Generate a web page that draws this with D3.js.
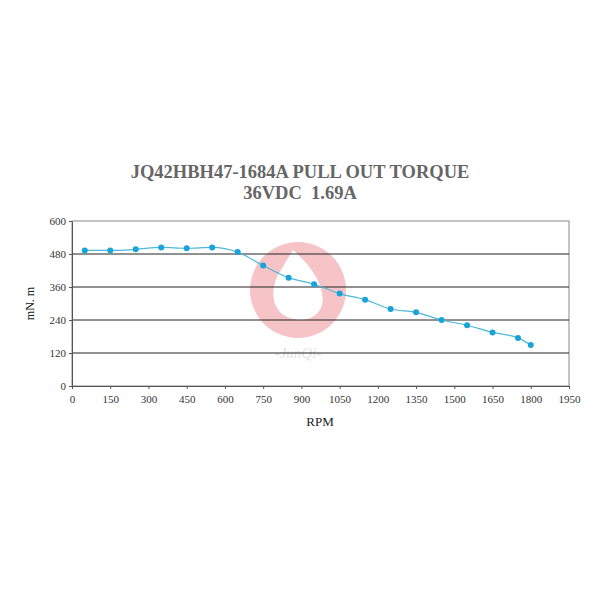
<!DOCTYPE html>
<html><head><meta charset="utf-8">
<script src="https://cdn.jsdelivr.net/npm/d3@7"></script>
<style>body{margin:0;background:#fff}</style>
</head><body><div id="chart"></div>
<script>
var rpm = [50,150,250,350,450,550,650,750,850,950,1050,1150,1250,1350,1450,1550,1650,1750,1800];
var torque = [493,493,497,504,501,504,487,438,394,370,336,314,280,268,240,221,195,175,149];
var xTicks = d3.range(0, 1951, 150);
var yTicks = [0,120,240,360,480,600];

var width = 600, height = 600;
var m = {left: 72, right: 31, top: 221, bottom: 214};

var svg = d3.select('#chart').append('svg')
  .attr('width', width).attr('height', height)
  .style('font-family', '"Liberation Serif", serif');

var x = d3.scaleLinear().domain([0, 1950]).range([m.left, width - m.right]);
var y = d3.scaleLinear().domain([0, 600]).range([height - m.bottom, m.top]);

// watermark
var wm = svg.append('g').attr('transform', 'translate(298,290)').style('opacity', 0.28);
wm.append('circle').attr('r', 48).attr('fill', '#e0303a');
wm.append('path').attr('d', 'M-5,-40 C30,-10 35,25 5,30 C-25,30 -30,5 -20,-15 Z').attr('fill', '#fff');
wm.append('text').attr('y', 68).attr('text-anchor', 'middle').attr('font-style', 'italic')
  .attr('font-size', 15).attr('fill', '#999').text('-JunQi-');

// plot border
svg.append('rect').attr('x', x(0)).attr('y', y(600))
  .attr('width', x(1950) - x(0)).attr('height', y(0) - y(600))
  .attr('fill', 'none').attr('stroke', '#888').attr('stroke-width', 1);

// grid
svg.selectAll('.grid').data(yTicks.slice(1, 5)).enter().append('line')
  .attr('x1', x(0)).attr('x2', x(1950))
  .attr('y1', function(d) { return y(d); }).attr('y2', function(d) { return y(d); })
  .attr('stroke', '#222').attr('stroke-width', 1);

// axes
var xa = svg.append('g').attr('transform', 'translate(0,' + y(0) + ')')
  .call(d3.axisBottom(x).tickValues(xTicks).tickFormat(d3.format('d')).tickSize(3).tickSizeOuter(0));
var ya = svg.append('g').attr('transform', 'translate(' + x(0) + ',0)')
  .call(d3.axisLeft(y).tickValues(yTicks).tickFormat(d3.format('d')).tickSize(3).tickSizeOuter(0));
[xa, ya].forEach(function(a) {
  a.select('.domain').attr('stroke', '#555');
  a.selectAll('line').attr('stroke', '#555');
  a.selectAll('text').attr('font-size', 11).attr('fill', '#333')
    .attr('font-family', '"Liberation Serif", serif');
});
xa.selectAll('text').attr('dy', '1em');

// line + points
svg.append('path').datum(d3.zip(rpm, torque))
  .attr('fill', 'none').attr('stroke', '#4bb8dc').attr('stroke-width', 1.2)
  .attr('d', d3.line().x(function(d) { return x(d[0]); }).y(function(d) { return y(d[1]); }).curve(d3.curveMonotoneX));
svg.selectAll('.pt').data(d3.zip(rpm, torque)).enter().append('circle')
  .attr('cx', function(d) { return x(d[0]); }).attr('cy', function(d) { return y(d[1]); })
  .attr('r', 3).attr('fill', '#1aa3d9');

// titles
svg.append('text').attr('x', 300).attr('y', 178).attr('text-anchor', 'middle')
  .attr('font-size', 18.5).attr('font-weight', 'bold').attr('fill', '#666')
  .text('JQ42HBH47-1684A PULL OUT TORQUE');
svg.append('text').attr('x', 300).attr('y', 199).attr('text-anchor', 'middle')
  .attr('font-size', 18.5).attr('font-weight', 'bold').attr('fill', '#666')
  .style('white-space', 'pre').text('36VDC  1.69A');
svg.append('text').attr('x', 320).attr('y', 426).attr('text-anchor', 'middle')
  .attr('font-size', 13).attr('fill', '#222').text('RPM');
svg.append('text').attr('transform', 'translate(34,' + y(300) + ') rotate(-90)')
  .attr('text-anchor', 'middle').attr('font-size', 12).attr('fill', '#222').text('mN. m');
</script></body></html>
